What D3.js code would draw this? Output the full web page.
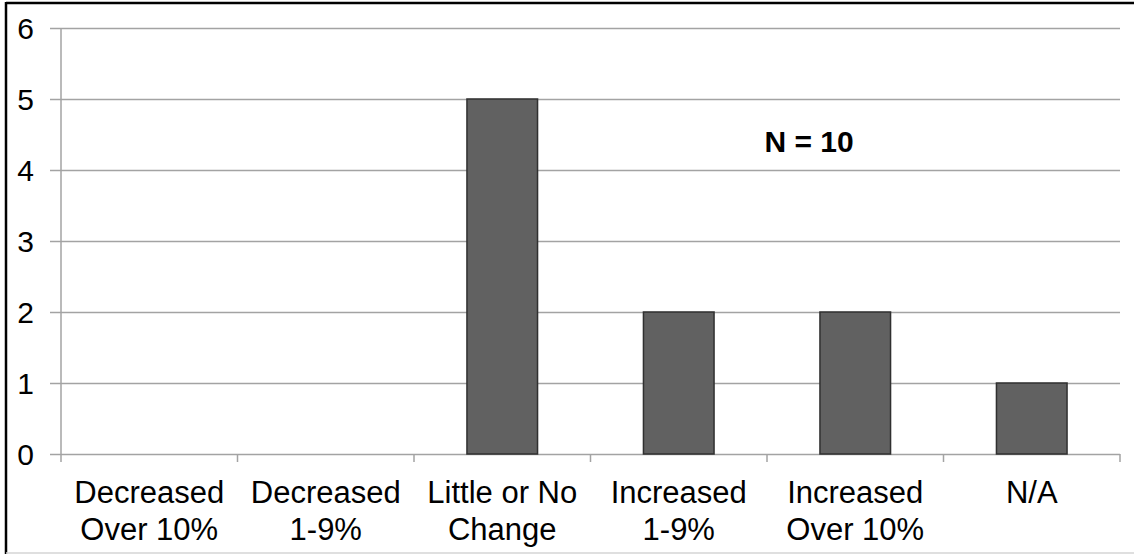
<!DOCTYPE html>
<html>
<head>
<meta charset="utf-8">
<script src="https://cdn.jsdelivr.net/npm/d3@7/dist/d3.min.js"></script>
<style>
  html, body { margin: 0; padding: 0; background: #fff; }
  svg { display: block; font-family: "Liberation Sans", Arial, sans-serif; }
</style>
</head>
<body>
<svg id="chart" width="1134" height="554"></svg>
<script>
// Survey responses per change category
const categories = [
  ["Decreased", "Over 10%"],
  ["Decreased", "1-9%"],
  ["Little or No", "Change"],
  ["Increased", "1-9%"],
  ["Increased", "Over 10%"],
  ["N/A"]
];
const counts = [0, 0, 5, 2, 2, 1];
const yTicks = [0, 1, 2, 3, 4, 5, 6];
const note = "N = 10";

const svg = d3.select("#chart");
const W = 1134, H = 554;
const plot = { left: 61, right: 1120, top: 28, bottom: 454 };

// frame around the figure
svg.append("line").attr("x1", 6).attr("x2", W).attr("y1", 3).attr("y2", 3)
  .attr("stroke", "#000").attr("stroke-width", 2.5);
svg.append("line").attr("x1", 6).attr("x2", 6).attr("y1", 2).attr("y2", H)
  .attr("stroke", "#000").attr("stroke-width", 2.5);
svg.append("line").attr("x1", 6).attr("x2", W).attr("y1", 553).attr("y2", 553)
  .attr("stroke", "#d4d4d4").attr("stroke-width", 1.5);

const keys = categories.map((c, i) => i);
const x = d3.scaleBand().domain(keys).range([plot.left, plot.right]).paddingInner(0.6).paddingOuter(0.3);
const xStep = d3.scaleBand().domain(keys).range([plot.left, plot.right]);
const y = d3.scaleLinear().domain([0, 6]).range([plot.bottom, plot.top]);

const grid = "#a3a3a3";

// horizontal gridlines with left tick stubs
svg.append("g")
  .attr("transform", `translate(${plot.left},0)`)
  .call(d3.axisLeft(y).tickValues(yTicks).tickSize(-(plot.right - plot.left)).tickFormat(""))
  .call(g => g.select(".domain").remove())
  .call(g => g.selectAll(".tick line").attr("stroke", grid).attr("stroke-width", 1.5).attr("x1", -11));

// vertical axis line
svg.append("line").attr("x1", plot.left).attr("x2", plot.left)
  .attr("y1", plot.top).attr("y2", plot.bottom + 8)
  .attr("stroke", grid).attr("stroke-width", 1.5);

// y tick labels
svg.append("g").selectAll("text").data(yTicks).join("text")
  .attr("x", 34).attr("y", d => y(d))
  .attr("dy", "0.35em")
  .attr("text-anchor", "end")
  .attr("font-size", 30)
  .attr("fill", "#000")
  .text(d => d);

// category boundary ticks below the axis
const bounds = keys.map(k => xStep(k)).concat([plot.right]);
svg.append("g").selectAll("line").data(bounds.slice(1)).join("line")
  .attr("x1", d => d).attr("x2", d => d)
  .attr("y1", plot.bottom).attr("y2", plot.bottom + 8)
  .attr("stroke", grid).attr("stroke-width", 1.5);

// bars
svg.append("g").selectAll("rect").data(counts.map((v, i) => ({ v, i })).filter(d => d.v > 0)).join("rect")
  .attr("x", d => x(d.i))
  .attr("width", x.bandwidth())
  .attr("y", d => y(d.v))
  .attr("height", d => y(0) - y(d.v))
  .attr("fill", "#616161")
  .attr("stroke", "#303030")
  .attr("stroke-width", 1.5);

// category labels
const lab = svg.append("g").selectAll("text").data(categories).join("text")
  .attr("text-anchor", "middle")
  .attr("font-size", 31)
  .attr("fill", "#000")
  .attr("transform", (d, i) => `translate(${xStep(i) + xStep.bandwidth() / 2},0)`);
lab.selectAll("tspan").data(d => d).join("tspan")
  .attr("x", 0)
  .attr("y", (d, j) => 503 + j * 37)
  .text(d => d);

// sample size note
svg.append("text")
  .attr("x", 809).attr("y", 152)
  .attr("text-anchor", "middle")
  .attr("font-size", 30)
  .attr("font-weight", "bold")
  .attr("fill", "#000")
  .text(note);
</script>
</body>
</html>
